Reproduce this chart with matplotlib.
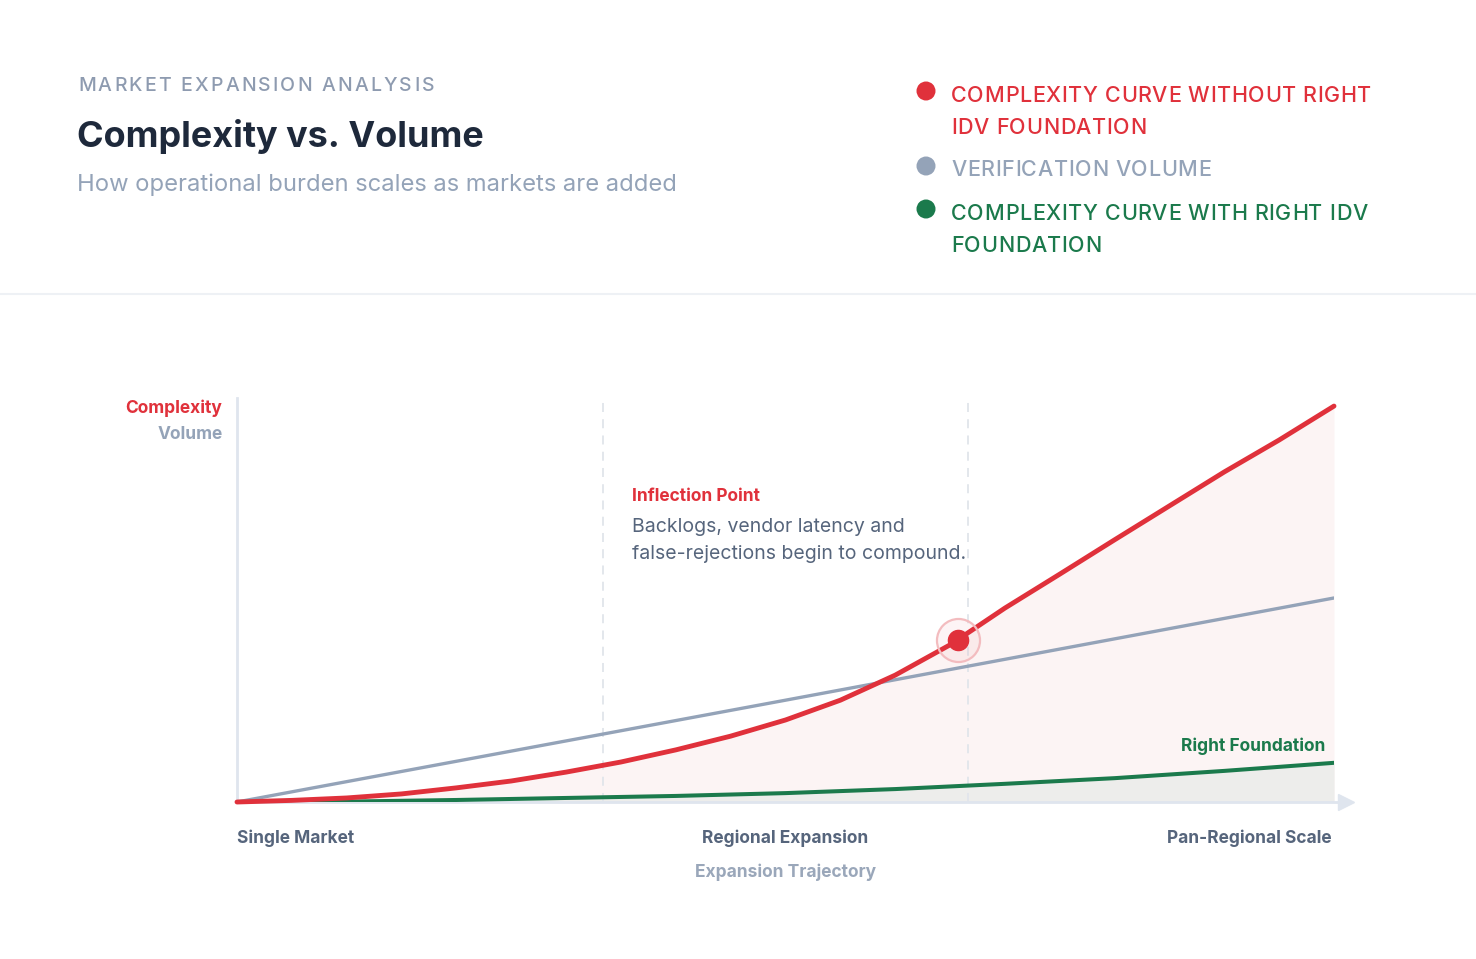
import numpy as np
import matplotlib
matplotlib.use('Agg')
import matplotlib.pyplot as plt
from matplotlib.patches import Circle

plt.rcParams['font.family'] = ['Inter', 'DejaVu Sans']

W, H = 1476, 959

# ---- data (x: expansion progress 0-100, y: relative load 0-100) ----
x_red = [0, 5, 10, 15, 20, 25, 30, 35, 40, 45, 50, 55, 60, 65, 70, 75, 80, 85, 90, 95, 100]
complexity_without = [0, 0.4, 1.0, 2.0, 3.5, 5.2, 7.4, 9.9, 12.9, 16.3, 20.3, 25.2, 31.4,
                      38.9, 48.0, 56.4, 64.9, 73.3, 81.7, 89.6, 98.0]
x_volume = [0, 50, 100]
volume = [0, 25.2, 50.5]
x_green = [0, 10, 20, 30, 40, 50, 60, 70, 80, 90, 100]
complexity_with = [0, 0.1, 0.5, 1.0, 1.5, 2.2, 3.2, 4.5, 5.9, 7.7, 9.7]

stage_labels = ['Single Market', 'Regional Expansion', 'Pan-Regional Scale']
stage_pos = [0, 50, 100]
phase_bounds = [33.4, 66.6]
inflection_x = 65.7

legend_items = [
    (['COMPLEXITY CURVE WITHOUT RIGHT', 'IDV FOUNDATION'], '#e0313b'),
    (['VERIFICATION VOLUME'], '#94a3b8'),
    (['COMPLEXITY CURVE WITH RIGHT IDV', 'FOUNDATION'], '#1b7a4c'),
]

RED = '#e0313b'
GREY = '#94a3b8'
GREEN = '#1b7a4c'
DARK = '#1e293b'
SLATE = '#56657c'

fig = plt.figure(figsize=(W / 100, H / 100), dpi=100)
fig.patch.set_facecolor('white')
renderer = fig.canvas.get_renderer()


def fx(px):
    return px / W


def fy(py):
    return 1 - py / H


def text_at(px, py, s, **kw):
    return fig.text(fx(px), fy(py), s, **kw)


def advance(ch, **kw):
    t1 = fig.text(0, 0, 'H' + ch + 'H', **kw)
    t2 = fig.text(0, 0, 'HH', **kw)
    w = t1.get_window_extent(renderer).width - t2.get_window_extent(renderer).width
    t1.remove()
    t2.remove()
    return w


def spaced_gap(s, target, **kw):
    adv = [advance(c, **kw) for c in s]
    return (target - sum(adv)) / (len(s) - 1)


def spaced_text(px, py, s, gap, **kw):
    cx = px
    for c in s:
        a = advance(c, **kw)
        if c != ' ':
            text_at(cx, py, c, va='baseline', ha='left', **kw)
        cx += a + gap


# separator between header and chart
fig.add_artist(plt.Line2D([0, 1], [fy(294), fy(294)], color='#eef1f5', lw=1.5, zorder=-4))

# ---- header ----
kw_kick = dict(fontsize=14, color='#8e9bb0', fontweight='medium')
g = spaced_gap('MARKET EXPANSION ANALYSIS', 356, **kw_kick)
spaced_text(78, 91, 'MARKET EXPANSION ANALYSIS', g, **kw_kick)
text_at(77, 147, 'Complexity vs. Volume', fontsize=25.9, fontweight='bold', color=DARK,
        va='baseline', ha='left')
text_at(77, 191, 'How operational burden scales as markets are added', fontsize=17.1,
        color=GREY, va='baseline', ha='left')

# ---- legend ----
kw_leg = dict(fontsize=15.5, fontweight='medium')
gap_leg = spaced_gap(legend_items[0][0][0], 420, color=RED, **kw_leg)
dot_y = [91, 166, 209]
base_y = [[101.5, 133.5], [176], [220, 252]]
for (lines, col), dy, bys in zip(legend_items, dot_y, base_y):
    fig.patches.append(Circle((926, H - dy), 9.5, transform=None, facecolor=col,
                              edgecolor='none'))
    for ln, by in zip(lines, bys):
        spaced_text(951, by, ln, gap_leg, color=col, **kw_leg)

# ---- chart ----
x0, x1, ytop, ybase = 237, 1334, 398, 802
ax = fig.add_axes([fx(x0), fy(ybase), (x1 - x0) / W, (ybase - ytop) / H])
ax.set_zorder(2)
ax.set_xlim(0, 100)
ax.set_ylim(0, 100)
ax.axis('off')

ax.fill_between(x_red, complexity_without, 0, color='#fcf4f4', lw=0, zorder=1)
ax.fill_between(x_green, complexity_with, 0, color='#ededeb', lw=0, zorder=1)

# axes
ax.plot([0, 0], [0, 100], color='#dfe5ee', lw=2, zorder=2, clip_on=False)
ax.plot([0, 100.8], [0, 0], color='#dfe5ee', lw=2, zorder=2, clip_on=False)
ax.plot([101.1], [0], marker='>', ms=11, color='#dfe5ee', zorder=2, clip_on=False)
for b in phase_bounds:
    ax.plot([b, b], [0, 100], color='#e1e5eb', lw=1.3, ls=(0, (5, 4)), zorder=2)

ax.plot(x_volume, volume, color=GREY, lw=2.4, solid_capstyle='round', zorder=3)
ax.plot(x_green, complexity_with, color=GREEN, lw=2.9, solid_capstyle='round', zorder=4)
ax.plot(x_red, complexity_without, color=RED, lw=3.5, solid_capstyle='round',
        solid_joinstyle='round', zorder=5, clip_on=False)

iy = np.interp(inflection_x, x_red, complexity_without)
ax.plot([inflection_x], [iy], marker='o', ms=31, mfc=(0.88, 0.19, 0.23, 0.05),
        mec='#f3bcbf', mew=1.6, zorder=6, clip_on=False)
ax.plot([inflection_x], [iy], marker='o', ms=14.5, color=RED, zorder=7, clip_on=False)

# axis titles
text_at(222, 413, 'Complexity', fontsize=12.5, fontweight='bold', color=RED,
        ha='right', va='baseline')
text_at(223, 439, 'Volume', fontsize=12.5, fontweight='bold', color=GREY,
        ha='right', va='baseline')

# stage labels
for lab, pos in zip(stage_labels, stage_pos):
    px = x0 + (x1 - x0) * pos / 100
    ha = 'left' if pos == 0 else ('right' if pos == 100 else 'center')
    if pos == 100:
        px -= 2
    text_at(px, 843, lab, fontsize=12.5, fontweight='bold', color=SLATE, ha=ha,
            va='baseline')
text_at(x0 + (x1 - x0) * 0.5, 877, 'Expansion Trajectory', fontsize=12.5,
        fontweight='bold', color='#9aa7ba', ha='center', va='baseline')

# annotation
text_at(632, 501, 'Inflection Point', fontsize=12.5, fontweight='bold', color=RED,
        ha='left', va='baseline')
text_at(632, 532, 'Backlogs, vendor latency and', fontsize=14, color=SLATE,
        ha='left', va='baseline')
text_at(632, 559, 'false-rejections begin to compound.', fontsize=14, color=SLATE,
        ha='left', va='baseline')
text_at(1325, 751, 'Right Foundation', fontsize=12.5, fontweight='bold', color=GREEN,
        ha='right', va='baseline')

fig.savefig('out.png', dpi=100)
